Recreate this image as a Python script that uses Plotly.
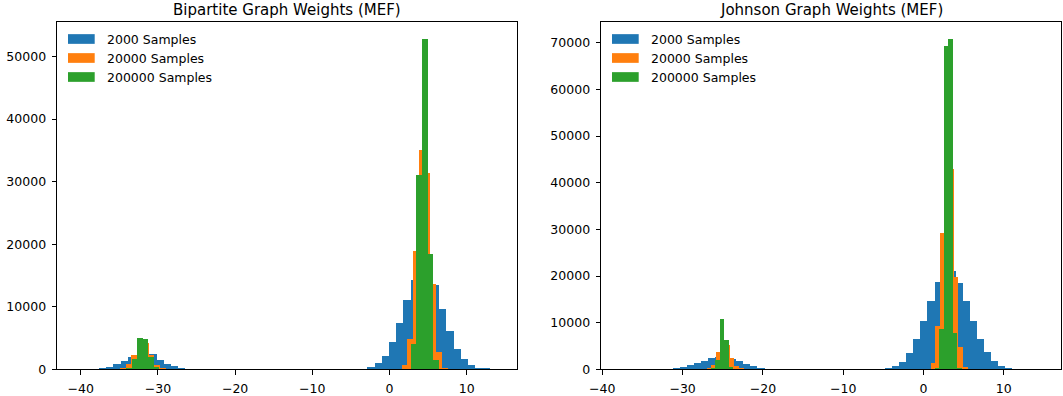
import plotly.graph_objects as go

# ---------------- data ----------------
series_names = ["2000 Samples", "20000 Samples", "200000 Samples"]
series_colors = ["#1f77b4", "#ff7f0e", "#2ca02c"]

titles = ["Bipartite Graph Weights (MEF)", "Johnson Graph Weights (MEF)"]

x_tick_vals = [-40, -30, -20, -10, 0, 10]
x_tick_text = ["\u221240", "\u221230", "\u221220", "\u221210", "0", "10"]
bip_y_tick_vals = [0, 10000, 20000, 30000, 40000, 50000]
joh_y_tick_vals = [0, 10000, 20000, 30000, 40000, 50000, 60000, 70000]

# Bipartite graph histograms (bin width, first bin edge of each cluster, counts)
bip_blue_width = 0.93
bip_blue_left_start = -37.62
bip_blue_left_counts = [180, 320, 800, 1300, 1900, 2200, 2400, 2450, 1500, 850, 530, 210]
bip_blue_right_start = -2.85
bip_blue_right_counts = [300, 960, 2100, 4350, 7400, 11000, 14200, 16800, 16500,
                         13500, 9600, 6150, 3250, 1650, 650, 210, 60]

bip_orange_width = 0.745
bip_orange_left_start = -34.93
bip_orange_left_counts = [190, 780, 2250, 4300, 4200, 2250, 750, 190]
bip_orange_right_start = 1.575
bip_orange_right_counts = [640, 4800, 18900, 35100, 31300, 13700, 2800, 210]

bip_green_width = 0.72
bip_green_left_start = -34.13
bip_green_left_counts = [270, 1700, 5000, 4840, 2020, 300]
bip_green_right_start = 2.78
bip_green_right_counts = [4050, 31000, 52870, 18400, 1450]

# Johnson graph histograms
joh_blue_width = 0.88
joh_blue_left_start = -31.24
joh_blue_left_counts = [210, 430, 860, 1290, 1710, 2360, 2570, 2500, 2140, 1710, 1070, 640, 170]
joh_blue_right_start = -4.79
joh_blue_right_counts = [210, 710, 1550, 3600, 6400, 10300, 14600, 18700, 20800, 21000,
                         18600, 14700, 10250, 6400, 3700, 1700, 780, 250]

joh_orange_width = 0.573
joh_orange_left_start = -27.0
joh_orange_left_counts = [200, 1030, 3700, 6000, 5200, 2450, 680, 100]
joh_orange_right_start = 0.91
joh_orange_right_counts = [1450, 9200, 29200, 48000, 42900, 19700, 4700, 450]

joh_green_width = 0.56
joh_green_left_start = -26.49
joh_green_left_counts = [200, 1950, 10750, 6250, 500]
joh_green_right_start = 1.40
joh_green_right_counts = [250, 8600, 69400, 70900, 7800, 300]

# ---------------- helpers ----------------
def bins(start, width, counts):
    xs = [start + width * (i + 0.5) for i in range(len(counts))]
    return xs, list(counts), [width] * len(counts)


def series(width, ls, lc, rs, rc):
    x1, y1, w1 = bins(ls, width, lc)
    x2, y2, w2 = bins(rs, width, rc)
    return x1 + x2, y1 + y2, w1 + w2


panels = [
    [
        series(bip_blue_width, bip_blue_left_start, bip_blue_left_counts,
               bip_blue_right_start, bip_blue_right_counts),
        series(bip_orange_width, bip_orange_left_start, bip_orange_left_counts,
               bip_orange_right_start, bip_orange_right_counts),
        series(bip_green_width, bip_green_left_start, bip_green_left_counts,
               bip_green_right_start, bip_green_right_counts),
    ],
    [
        series(joh_blue_width, joh_blue_left_start, joh_blue_left_counts,
               joh_blue_right_start, joh_blue_right_counts),
        series(joh_orange_width, joh_orange_left_start, joh_orange_left_counts,
               joh_orange_right_start, joh_orange_right_counts),
        series(joh_green_width, joh_green_left_start, joh_green_left_counts,
               joh_green_right_start, joh_green_right_counts),
    ],
]

W, H = 1063, 396
FONT = "DejaVu Sans"
ax_px = [(57, 517), (601, 1061)]
top_px, bot_px = 22, 369.3
x_ranges = [[-43.07, 16.52], [-40.16, 17.12]]
y_ranges = [[0, 55510], [0, 74450]]
y_ticks = [bip_y_tick_vals, joh_y_tick_vals]

fig = go.Figure()
for p, panel in enumerate(panels):
    xa = "x" if p == 0 else "x2"
    ya = "y" if p == 0 else "y2"
    for s, (xs, ys, ws) in enumerate(panel):
        fig.add_trace(go.Bar(
            x=xs, y=ys, width=ws, name=series_names[s],
            marker=dict(color=series_colors[s], line=dict(width=0)),
            xaxis=xa, yaxis=ya, showlegend=False,
        ))

axis_common = dict(
    showgrid=False, zeroline=False, showline=True, linecolor="black", linewidth=1,
    mirror=True, ticks="outside", ticklen=4.4, tickwidth=1, tickcolor="black",
    tickfont=dict(family=FONT, size=12.5, color="black"), automargin=False,
)

layout = dict(
    template="none",
    width=W, height=H, autosize=False,
    margin=dict(l=0, r=0, t=0, b=0, pad=0),
    paper_bgcolor="white", plot_bgcolor="white",
    barmode="overlay", bargap=0,
    showlegend=False,
)
for p in range(2):
    sx = "" if p == 0 else "2"
    x0, x1 = ax_px[p]
    layout["xaxis" + sx] = dict(
        axis_common, domain=[x0 / W, x1 / W], range=x_ranges[p],
        tickmode="array", tickvals=x_tick_vals, ticktext=x_tick_text,
        anchor="y" + sx, ticklabelstandoff=3,
    )
    layout["yaxis" + sx] = dict(
        axis_common, domain=[(H - bot_px) / H, (H - top_px) / H], range=y_ranges[p],
        tickmode="array", tickvals=y_ticks[p], ticktext=[str(v) for v in y_ticks[p]],
        anchor="x" + sx, ticklabelstandoff=3,
    )
fig.update_layout(**layout)

ax_h = bot_px - top_px
shapes = []
annotations = []
for p in range(2):
    sx = "" if p == 0 else "2"
    x0, x1 = ax_px[p]
    aw = x1 - x0
    annotations.append(dict(
        text=titles[p], xref="paper", yref="paper",
        x=(x0 + aw / 2) / W, y=1 - 10.5 / H, xanchor="center", yanchor="middle",
        showarrow=False, font=dict(family=FONT, size=15, color="black"),
    ))
    for s in range(3):
        cy = 17 + 19 * s  # px below top of axes
        shapes.append(dict(
            type="rect", xref="x" + sx + " domain", yref="y" + sx + " domain",
            x0=11 / aw, x1=37.7 / aw,
            y0=1 - (cy + 4.85) / ax_h, y1=1 - (cy - 4.85) / ax_h,
            fillcolor=series_colors[s], line=dict(width=0),
        ))
        annotations.append(dict(
            text=series_names[s], xref="x" + sx + " domain", yref="y" + sx + " domain",
            x=48 / aw, y=1 - cy / ax_h, xanchor="left", yanchor="middle",
            showarrow=False, font=dict(family=FONT, size=12.5, color="black"),
        ))
fig.update_layout(shapes=shapes, annotations=annotations)

fig.write_html(
    "out.html",
    config={"displayModeBar": False},
    post_script="document.body.style.margin='0';document.body.style.overflow='hidden';",
)
